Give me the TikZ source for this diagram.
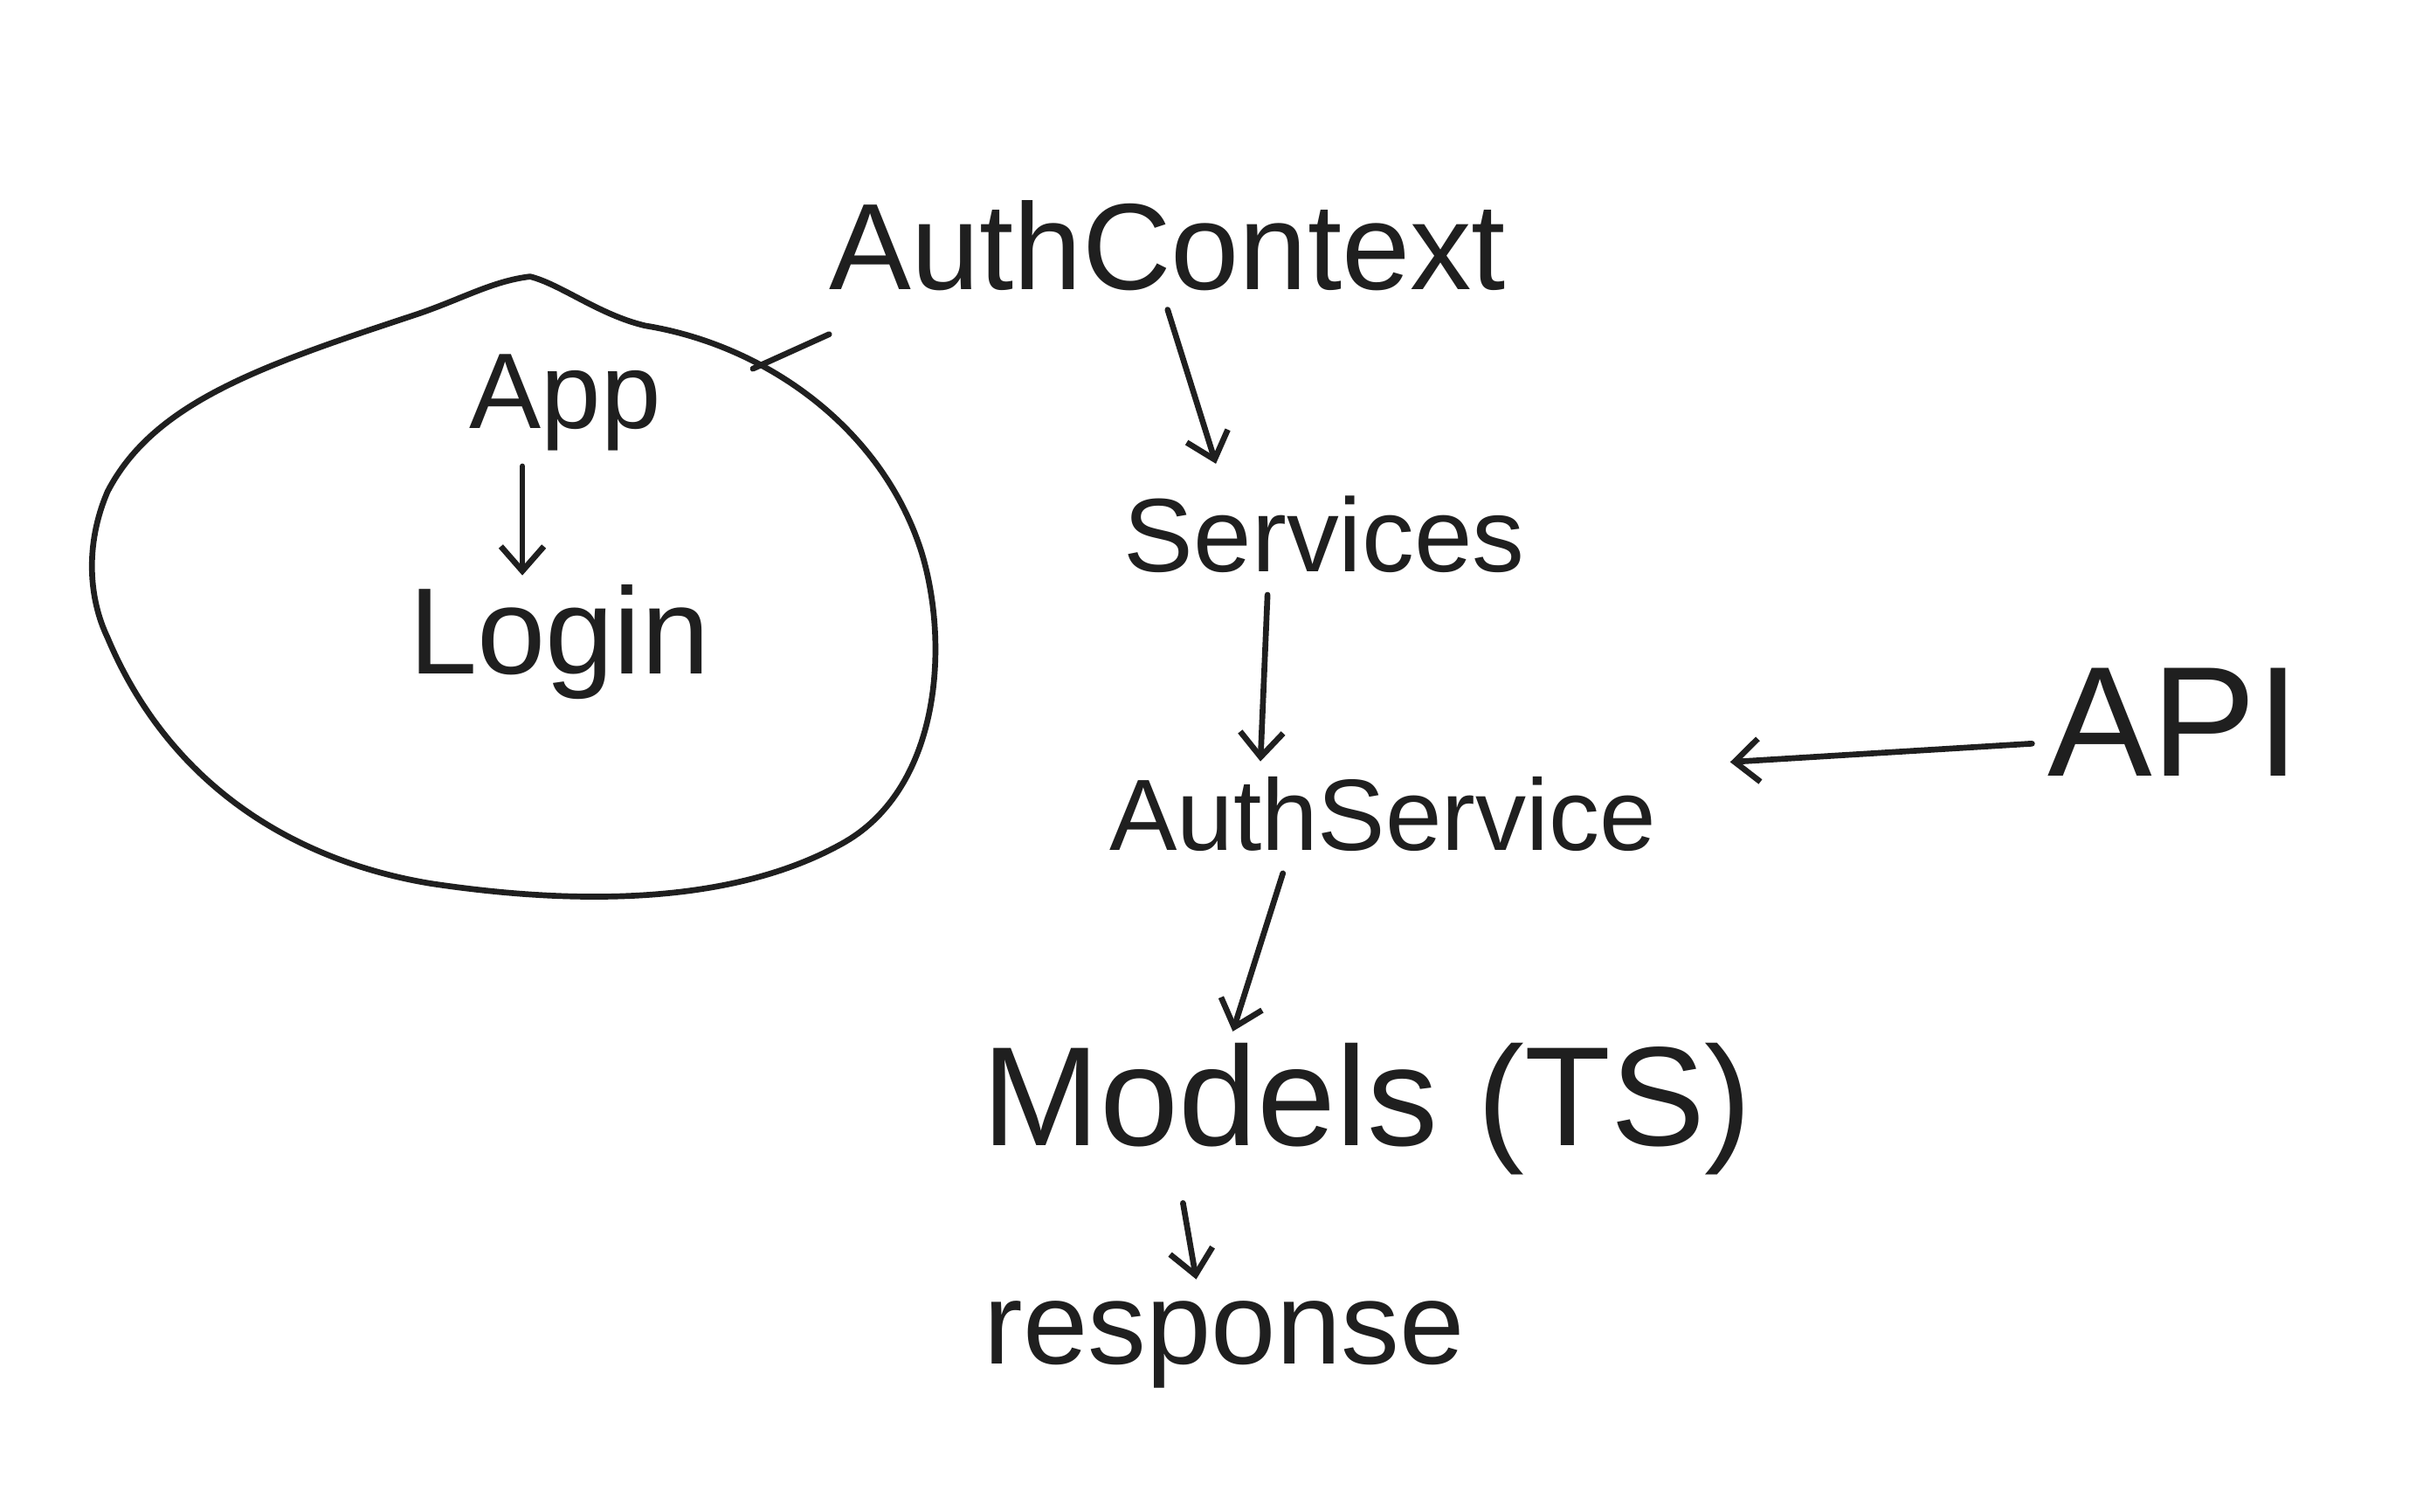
\documentclass[tikz,border=0pt]{standalone}
\usepackage{fontspec}
\setmainfont{Liberation Sans}
\usetikzlibrary{arrows.meta}
\tikzset{
  ink/.style={draw=black!88, line width=3.8pt, line cap=round, line join=round},
  arr/.style={ink, -{Straight Barb[length=16pt, width=28pt, line width=3.8pt]}},
  lbl/.style={inner sep=0pt, text=black!88},
}
\begin{document}
\begin{tikzpicture}[x=1pt, y=-1pt]
\useasboundingbox[fill=white] (0,0) rectangle (1568,984);
% blob
\draw[ink] (345,180) .. controls (320,183) and (300,195) .. (270,205)
  .. controls (170,238) and (100,262) .. (70,320)
  .. controls (55,355) and (58,390) .. (70,415)
  .. controls (110,510) and (190,560) .. (280,575)
  .. controls (380,590) and (480,588) .. (550,548)
  .. controls (612,512) and (618,420) .. (600,360)
  .. controls (575,280) and (500,225) .. (420,212)
  .. controls (390,205) and (365,185) .. (345,180) -- cycle;
\coordinate (blobR) at (490,240);
% labels
\node[lbl, font=\fontsize{70}{70}\selectfont] (app) at (368,262) {App};
\node[lbl, font=\fontsize{80}{80}\selectfont] (login) at (364,418) {Login};
\node[lbl, font=\fontsize{80}{80}\selectfont] (ac) at (760,160) {AuthContext};
\node[lbl, font=\fontsize{68}{68}\selectfont] (sv) at (862,348) {Services};
\node[lbl, font=\fontsize{66}{66}\selectfont] (as) at (900,530) {AuthService};
\node[lbl, font=\fontsize{102}{102}\selectfont] (api) at (1415,470) {API};
\node[lbl, font=\fontsize{92}{92}\selectfont] (md) at (890,722) {Models (TS)};
\node[lbl, font=\fontsize{76}{76}\selectfont] (rs) at (797,875) {response};
% connectors
\draw[ink] (blobR) -- ([yshift=-28pt]ac.south west);
\draw[arr, shorten >=6pt] ([xshift=-28pt,yshift=-10pt]app.south) -- ([xshift=-24pt]login.north);
\draw[arr, shorten >=22pt] ([yshift=-12pt]ac.south) -- ([xshift=-64pt]sv.north);
\draw[arr, shorten >=10pt] ([xshift=-37pt,yshift=-14pt]sv.south) -- ([xshift=-80pt]as.north);
\draw[arr, shorten >=8pt] ([xshift=-65pt,yshift=-14pt]as.south) -- ([xshift=-90pt]md.north);
\draw[arr, shorten >=14pt] ([xshift=-120pt,yshift=-18pt]md.south) -- ([xshift=-16pt]rs.north);
\draw[arr] ([xshift=-10pt,yshift=-14pt]api.west) -- ([xshift=48pt,yshift=34pt]as.east);
\end{tikzpicture}
\end{document}
